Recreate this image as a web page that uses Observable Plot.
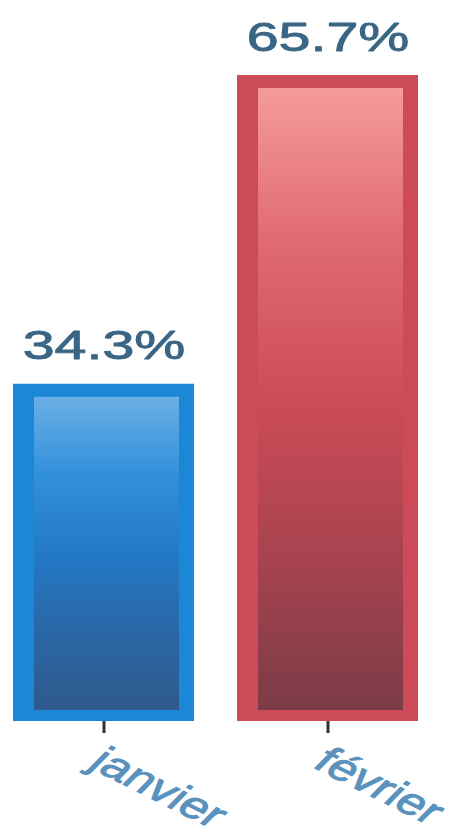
<!DOCTYPE html>
<html>
<head>
<meta charset="utf-8">
<script src="https://cdn.jsdelivr.net/npm/d3@7"></script>
<script src="https://cdn.jsdelivr.net/npm/@observablehq/plot@0.6"></script>
<style>
  html, body { margin: 0; padding: 0; background: #ffffff; }
  #chart svg { display: block; }
</style>
</head>
<body>
<div id="chart"></div>
<script>
// ---- data ----
const months = ["janvier", "février"];
const shares = [34.3, 65.7];
const frameColors = ["#1b87d6", "#cd4b58"];
const gradientIds = ["gradJanvier", "gradFevrier"];
const gradientStops = [
  ["#6aafe6", "#3290da", "#2379c6", "#2a67a6", "#2f5a8c"],
  ["#f59a9c", "#e06a70", "#cd4b57", "#a8434f", "#7b3c47"]
];

const data = months.map((m, i) => ({
  month: m,
  share: shares[i],
  frame: frameColors[i],
  grad: `url(#${gradientIds[i]})`
}));

const stretchX = 1.4;

const chart = Plot.plot({
  width: 449,
  height: 838,
  marginTop: 75,
  marginBottom: 117,
  marginLeft: 13,
  marginRight: 30,
  style: { background: "#ffffff", fontFamily: "'Liberation Sans', Arial, sans-serif" },
  x: { domain: months, paddingInner: 0.19, paddingOuter: 0, label: null },
  y: { domain: [0, d3.max(shares)], nice: false, axis: null, label: null },
  color: { type: "identity" },
  marks: [
    Plot.barY(data, { x: "month", y: "share", fill: d => d.frame }),
    Plot.barY(data, {
      x: "month", y: "share", fill: d => d.grad,
      insetLeft: 21, insetRight: 15, insetTop: 13, insetBottom: 11
    }),
    Plot.axisX({ tickSize: 12, strokeWidth: 3, stroke: "#333333", tickFormat: () => "", label: null }),
    Plot.text(data, {
      x: "month", y: "share",
      text: d => d.share.toFixed(1) + "%",
      dy: -25, lineAnchor: "bottom",
      fontSize: 41, fill: "#3a6686", stroke: "#3a6686", strokeWidth: 0.9
    }),
    Plot.text(data, {
      x: "month", y: () => 0,
      text: "month",
      textAnchor: "start", lineAnchor: "bottom",
      dx: -17, dy: 45,
      fontSize: 37, fill: "#5a92bd", stroke: "#5a92bd", strokeWidth: 0.9
    })
  ]
});

// gradient definitions
const svg = d3.select(chart.tagName === "svg" ? chart : chart.querySelector("svg"));
const defs = svg.insert("defs", ":first-child");
gradientIds.forEach((id, i) => {
  const g = defs.append("linearGradient").attr("id", id)
    .attr("x1", 0).attr("y1", 0).attr("x2", 0).attr("y2", 1);
  const stops = gradientStops[i];
  stops.forEach((c, k) => {
    g.append("stop").attr("offset", (k / (stops.length - 1)) * 100 + "%").attr("stop-color", c);
  });
});

// horizontal stretch of the lettering (as in the reference), rotated month labels
svg.selectAll("text").each(function () {
  const t = d3.select(this);
  const txt = this.textContent;
  const isValue = /%$/.test(txt);
  const isMonth = months.includes(txt);
  if (!isValue && !isMonth) return;
  const x = +t.attr("x") || 0, y = +t.attr("y") || 0;
  const tr = t.attr("transform") || "";
  t.attr("x", null).attr("y", null);
  const extra = isValue ? ` scale(${stretchX},1)` : ` scale(${stretchX},1) rotate(35)`;
  t.attr("transform", `translate(${x},${y}) ${tr}${extra}`);
});

document.getElementById("chart").appendChild(chart);
</script>
</body>
</html>
